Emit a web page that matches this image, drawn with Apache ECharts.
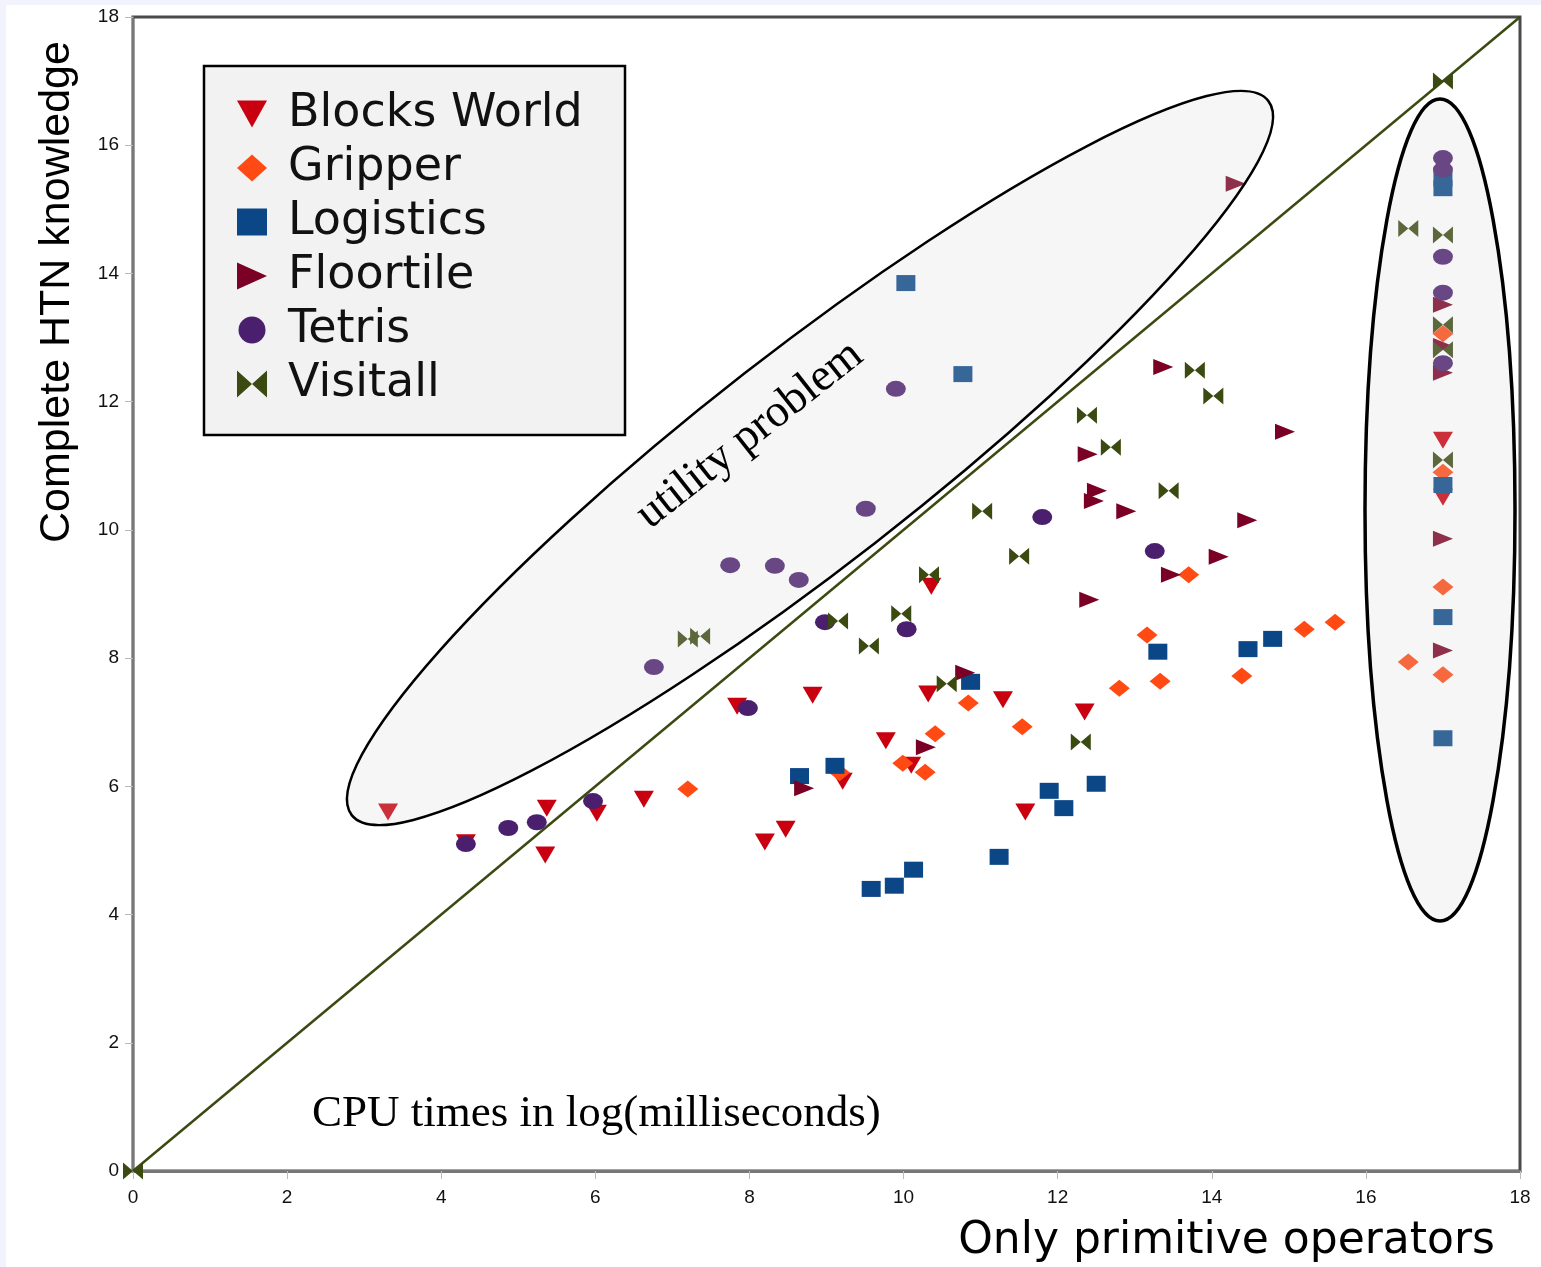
<!DOCTYPE html>
<html><head><meta charset="utf-8">
<script src="https://cdn.jsdelivr.net/npm/echarts@6/dist/echarts.min.js"></script>
<style>html,body{margin:0;padding:0;background:#fff}#c{width:1541px;height:1267px}</style>
</head><body><div id="c"></div>
<script>
// ---- data (x: only primitive operators, y: complete HTN knowledge; log ms) ----
const seriesNames = ['Blocks World','Gripper','Logistics','Floortile','Tetris','Visitall'];
const blocksWorld = [[3.31,5.60],[4.32,5.12],[5.37,5.66],[5.35,4.93],[6.02,5.58],[6.63,5.80],[7.84,7.25],[8.20,5.13],[8.47,5.33],[8.82,7.42],[9.21,6.08],[9.77,6.71],[10.10,6.33],[10.36,9.12],[10.32,7.44],[11.29,7.35],[11.58,5.60],[12.35,7.16],[17,11.40],[17,10.51]];
const gripper = [[7.20,5.96],[9.17,6.21],[9.99,6.36],[10.28,6.22],[10.41,6.82],[10.84,7.30],[11.54,6.93],[12.80,7.53],[13.16,8.36],[13.33,7.64],[13.70,9.30],[14.39,7.72],[15.20,8.45],[15.60,8.56],[16.55,7.94],[17,13.06],[17,10.90],[17,9.11],[17,7.74]];
const logistics = [[8.65,6.16],[9.11,6.32],[9.58,4.40],[9.88,4.45],[10.13,4.70],[10.03,13.85],[10.77,12.43],[10.87,7.63],[11.24,4.90],[11.89,5.93],[12.08,5.66],[12.50,6.04],[13.30,8.10],[14.47,8.14],[14.79,8.30],[17,15.48],[17,15.33],[17,10.70],[17,8.64],[17,6.75]];
const floortile = [[8.71,5.97],[10.29,6.61],[10.80,7.77],[12.41,8.91],[12.47,10.45],[12.51,10.61],[12.89,10.29],[12.39,11.18],[13.37,12.54],[14.95,11.53],[14.46,10.15],[14.09,9.58],[13.47,9.30],[14.31,15.40],[17,13.51],[17,12.87],[17,12.45],[17,9.86],[17,8.12]];
const tetris = [[4.32,5.10],[4.87,5.35],[5.24,5.44],[5.97,5.77],[6.76,7.86],[7.75,9.45],[8.33,9.44],[8.64,9.22],[7.98,7.22],[8.98,8.56],[9.51,10.33],[9.90,12.20],[10.04,8.45],[11.80,10.20],[13.26,9.67],[17,15.80],[17,15.62],[17,14.26],[17,13.70],[17,12.60]];
const visitall = [[0,0],[7.20,8.30],[7.36,8.34],[9.15,8.58],[9.55,8.19],[13.78,12.49],[14.02,12.09],[12.38,11.79],[12.69,11.29],[13.44,10.61],[11.02,10.29],[11.50,9.59],[10.33,9.30],[9.97,8.69],[10.56,7.60],[12.30,6.69],[17,17.0],[16.55,14.70],[17,14.60],[17,13.20],[17,12.81],[17,11.09]];
const diagonal = [[0,0],[18,18]];
const axisMin = 0, axisMax = 18, axisStep = 2;

const chart = echarts.init(document.getElementById('c'), null, {renderer:'canvas'});
const bowtie = 'path://M0,0L10,8L0,16ZM20,0L10,8L20,16Z';
const downTri = 'path://M0,0L20,0L10,17Z';
const rightTri = 'path://M0,0L20,10L0,20Z';
const dataSets = [blocksWorld, gripper, logistics, floortile, tetris, visitall];
const looks = [
  {symbol:'triangle', size:[20,17], rot:180, color:'#c8000f', icon:downTri},
  {symbol:'diamond', size:[21,17], rot:0, color:'#ff4a14', icon:'diamond'},
  {symbol:'rect', size:[19,16], rot:0, color:'#0b4787', icon:'rect'},
  {symbol:'triangle', size:[16,20], rot:-90, color:'#7a0025', icon:rightTri},
  {symbol:'circle', size:[20,16], rot:0, color:'#4a1f6e', icon:'circle'},
  {symbol:bowtie, size:[20,17], rot:0, color:'#3a4a10', icon:bowtie}
];
const series = seriesNames.map((n,i)=>({
  name:n, type:'scatter', data:dataSets[i], symbol:looks[i].symbol,
  symbolSize:looks[i].size, symbolRotate:looks[i].rot, symbolKeepAspect:false,
  itemStyle:{color:looks[i].color, opacity:1}, z:3
}));
series.unshift({name:'diag', type:'line', data:diagonal, showSymbol:false, silent:true,
  lineStyle:{color:'#3a4a10', width:2.5}, z:2});

const font = 'Liberation Sans';
chart.setOption({
  backgroundColor:'#ffffff',
  animation:false,
  grid:{left:133, top:17, right:21, bottom:96, show:true, borderColor:'#4a4a4a', borderWidth:3, backgroundColor:'#fff'},
  xAxis:{type:'value', min:axisMin, max:axisMax, interval:axisStep,
    axisLine:{lineStyle:{color:'#777', width:3}}, axisTick:{show:true, length:8, lineStyle:{color:'#bbb'}},
    splitLine:{show:false}, axisLabel:{fontSize:19, color:'#111', fontFamily:font, margin:17}},
  yAxis:{type:'value', min:axisMin, max:axisMax, interval:axisStep,
    axisLine:{show:true, lineStyle:{color:'#777', width:2}}, axisTick:{show:true, length:8, lineStyle:{color:'#bbb'}},
    splitLine:{show:false}, axisLabel:{fontSize:19, color:'#111', fontFamily:font, margin:14}},
  legend:{data:seriesNames.map((n,i)=>({name:n, icon:looks[i].icon})), orient:'vertical', left:232, top:86,
    itemWidth:30, itemHeight:27, itemGap:8, symbolRotate:0,
    symbolKeepAspect:false, z:6,
    textStyle:{fontSize:46, fontFamily:'DejaVu Sans', color:'#111', lineHeight:44, padding:[0,0,0,16]}},
  series:series,
  graphic:[
    {type:'rect', shape:{x:0,y:0,width:1541,height:5}, style:{fill:'#f2f3fc'}, z:0, silent:true},
    {type:'rect', shape:{x:0,y:0,width:6,height:1267}, style:{fill:'#f2f3fc'}, z:0, silent:true},
    {type:'rect', shape:{x:204,y:66,width:421,height:369}, style:{fill:'#f2f2f2', stroke:'#000', lineWidth:2.5}, z:5, silent:true},
    {type:'ellipse', x:810, y:458, rotation:0.662, shape:{cx:0, cy:0, rx:581, ry:107},
      style:{fill:'rgba(215,215,215,0.22)', stroke:'#000', lineWidth:2.5}, z:10, silent:true},
    {type:'ellipse', x:1440, y:510, shape:{cx:0, cy:0, rx:75, ry:411},
      style:{fill:'rgba(215,215,215,0.22)', stroke:'#000', lineWidth:3.5}, z:10, silent:true},
    {type:'text', x:750, y:435, rotation:0.67, z:11, silent:true,
      style:{text:'utility problem', fontSize:46, fontFamily:'Liberation Serif', fill:'#000', align:'center', verticalAlign:'middle'}},
    {type:'text', x:312, y:1114, z:11, silent:true,
      style:{text:'CPU times in log(milliseconds)', fontSize:45, fontFamily:'Liberation Serif', fill:'#000', align:'left', verticalAlign:'middle'}},
    {type:'text', x:57, y:292, rotation:Math.PI/2, z:11, silent:true,
      style:{text:'Complete HTN knowledge', fontSize:43, fontFamily:font, fill:'#000', align:'center', verticalAlign:'middle'}},
    {type:'text', x:1495, y:1242, z:11, silent:true,
      style:{text:'Only primitive operators', fontSize:44, fontFamily:'DejaVu Sans', fill:'#000', align:'right', verticalAlign:'middle'}}
  ]
});
</script></body></html>
